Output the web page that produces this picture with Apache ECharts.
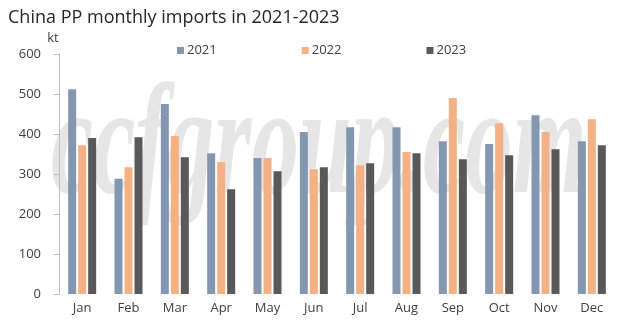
<!DOCTYPE html>
<html><head><meta charset="utf-8">
<script src="https://cdn.jsdelivr.net/npm/echarts@6/dist/echarts.min.js"></script>
<style>html,body{margin:0;padding:0;background:#fff}#c{width:633px;height:335px}</style>
</head><body><div id="c"></div>
<script>
var categories = ['Jan','Feb','Mar','Apr','May','Jun','Jul','Aug','Sep','Oct','Nov','Dec'];
var s2021 = [512, 288, 475, 352, 340, 405, 417, 417, 382, 375, 447, 382];
var s2022 = [372, 317, 395, 330, 340, 312, 322, 355, 490, 427, 405, 437];
var s2023 = [390, 392, 342, 262, 307, 317, 327, 352, 337, 347, 362, 372];
var seriesNames = ['2021','2022','2023'];
var colors = ['#8497B0','#F4B183','#595959'];
var FONT = '"Open Sans", "Noto Sans", sans-serif';
var chart = echarts.init(document.getElementById('c'), null, {renderer:'canvas'});
var data = [s2021, s2022, s2023];
chart.setOption({
  animation:false,
  backgroundColor:'#fff',
  title:{text:'China PP monthly imports in 2021-2023', left:3, top:4,
    textStyle:{fontFamily:FONT, fontSize:18, fontWeight:'normal', color:'#262626'}},
  legend:{left:172, top:39, itemWidth:7, itemHeight:7, itemGap:85, icon:'rect',
    textStyle:{fontFamily:FONT, fontSize:13, color:'#404040', padding:[0,0,0,-2]},
    data:seriesNames},
  graphic:[{type:'text', left:51, top:74, z:-10, silent:true, scaleX:0.76, scaleY:1.25,
    style:{text:'ccfgroup.com', fontFamily:'"Liberation Serif", serif', fontStyle:'italic', fontWeight:'bold', fontSize:125, fill:'#e6e6e6'}}],
  grid:{left:59, right:18, top:54, bottom:41},
  xAxis:{type:'category', data:categories,
    axisLine:{show:false}, axisTick:{show:false},
    axisLabel:{fontFamily:FONT, fontSize:13, color:'#404040', margin:8}},
  yAxis:{type:'value', min:0, max:600, interval:100, name:'kt', nameLocation:'end', nameGap:9,
    nameTextStyle:{fontFamily:FONT, fontSize:13, color:'#404040', align:'center', padding:[0,12,0,0]},
    axisLine:{show:true, lineStyle:{color:'#BFBFBF'}},
    axisTick:{show:true, length:5, lineStyle:{color:'#BFBFBF'}},
    splitLine:{show:false},
    axisLabel:{fontFamily:FONT, fontSize:13, color:'#404040', margin:18}},
  series: seriesNames.map(function(n,i){return {name:n, type:'bar', data:data[i], barWidth:8, barGap:'25%', itemStyle:{color:colors[i]}};})
});
</script></body></html>
